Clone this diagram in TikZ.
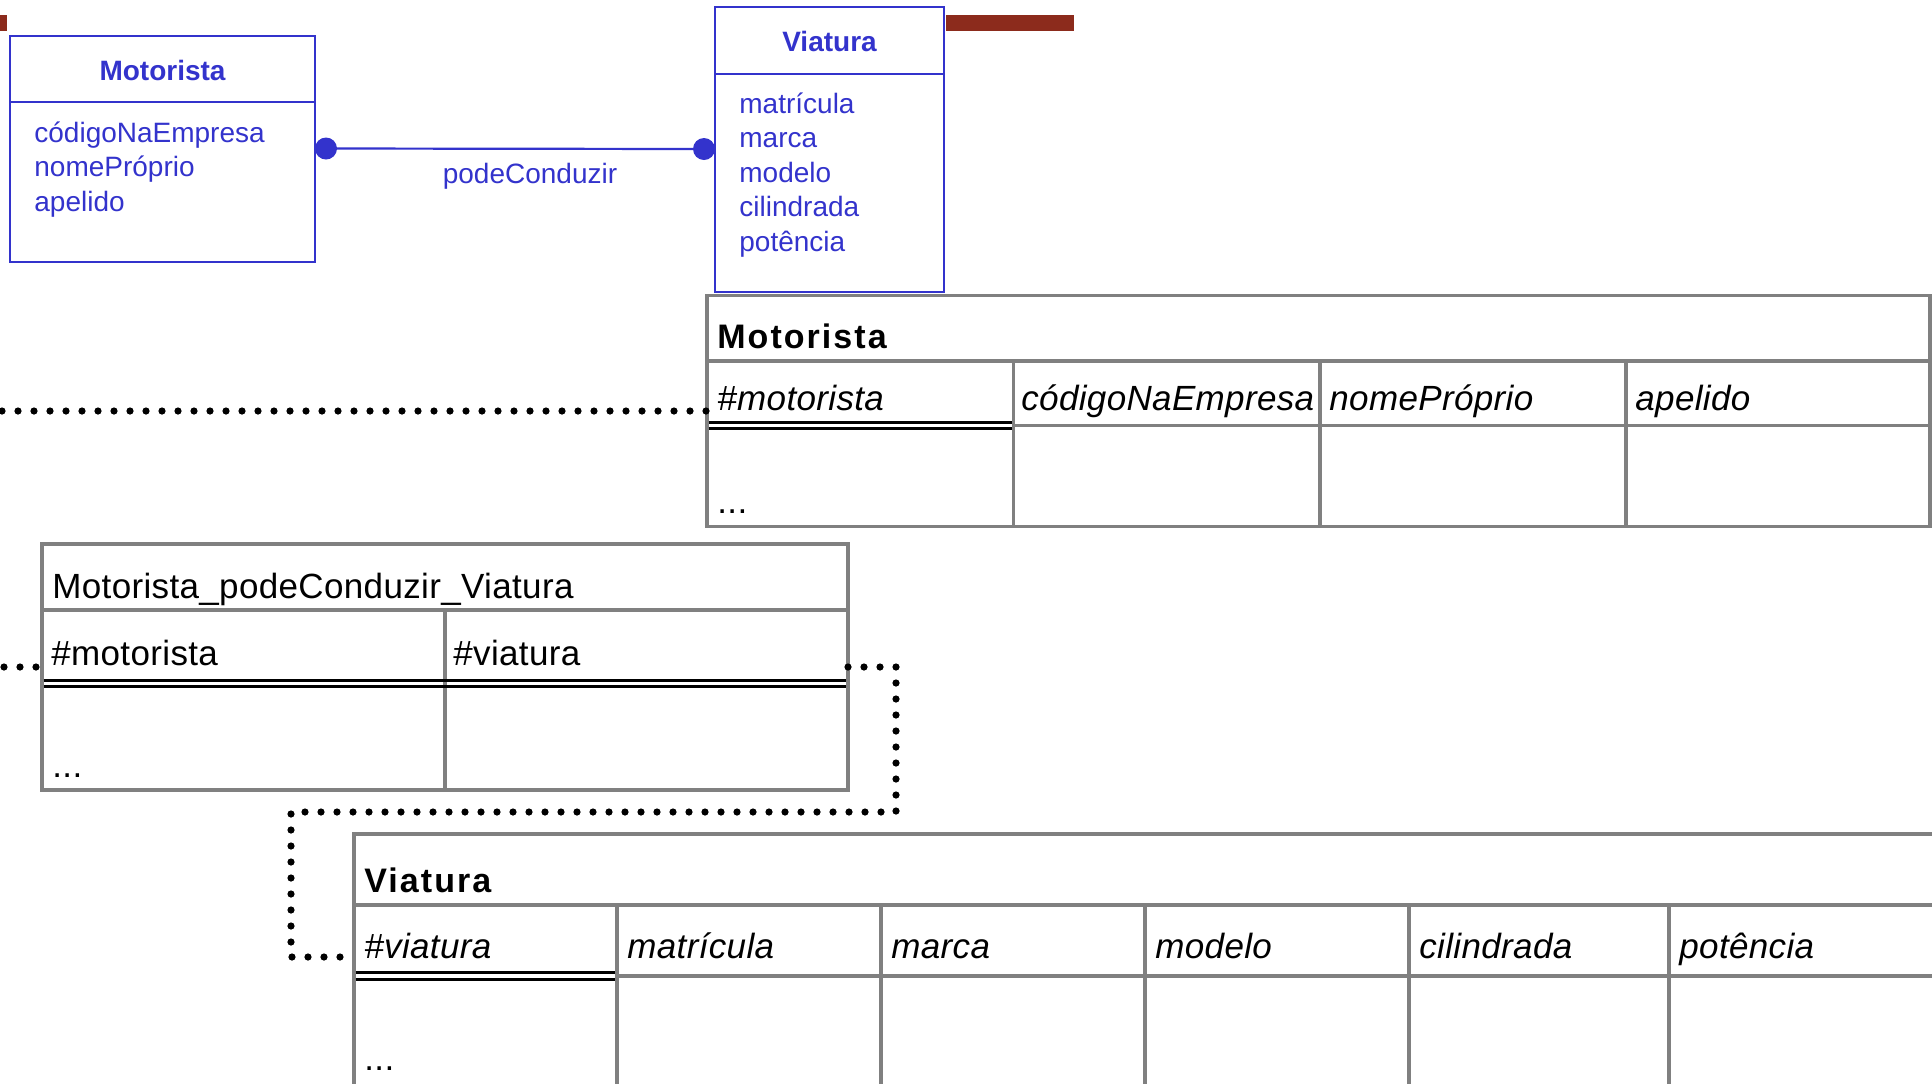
\documentclass[tikz,border=0pt]{standalone}
\usepackage{fontspec}
\setmainfont{Liberation Sans}
\newfontfamily\tabfont[LetterSpace=1]{Liberation Sans}
\newfontfamily\tabheadfont[LetterSpace=6]{Liberation Sans}
\definecolor{umlblue}{RGB}{51,51,204}
\definecolor{tgray}{RGB}{128,128,128}
\definecolor{barbrown}{RGB}{140,43,28}
\begin{document}
\begin{tikzpicture}[x=0.5pt,y=-0.5pt,
  umlbox/.style={draw=umlblue,line width=1.1pt,rectangle,inner sep=0,outer sep=0},
  umlrule/.style={draw=umlblue,line width=1.1pt},
  umltxt/.style={text=umlblue,inner sep=0,font=\fontsize{14pt}{16pt}\selectfont},
  umltitle/.style={text=umlblue,inner sep=0,font=\fontsize{14pt}{16pt}\selectfont\bfseries},
  enddot/.style={circle,fill=umlblue,inner sep=0,outer sep=0,minimum size=11pt},
  tframe/.style={draw=tgray,line width=1.65pt,rectangle,inner sep=0,outer sep=0},
  tline/.style={draw=tgray,line width=1.65pt},
  keyline/.style={draw=black,line width=1.6pt},
  ttitle/.style={inner sep=0,anchor=base west,font=\tabheadfont\fontsize{17pt}{19pt}\selectfont\bfseries},
  tcell/.style={inner sep=0,anchor=base west,font=\tabfont\fontsize{17.5pt}{20pt}\selectfont\itshape},
  tplain/.style={inner sep=0,anchor=base west,font=\tabfont\fontsize{17.5pt}{20pt}\selectfont},
  dotline/.style={line width=3.6pt,line cap=round,dash pattern=on 0pt off 8pt},
]
\useasboundingbox (0,0) rectangle (1932,1083);
\clip (0,0) rectangle (1932,1083);

% decorative bars
\fill[barbrown] (0,15) rectangle (7,31);
\fill[barbrown] (946,15) rectangle (1074,31);

% ---------- class diagram ----------
\node[umlbox,minimum width=152.5pt,minimum height=113pt] (mbox) at (162.5,149) {};
\draw[umlrule] (10,102) -- (315,102);
\node[umltitle,anchor=base] (mtitle) at (162.5,80) {Motorista};
\node[umltxt,anchor=base west] (ma1) at (34,142) {códigoNaEmpresa};
\node[umltxt,anchor=base west] (ma2) at (34,176.5) {nomePróprio};
\node[umltxt,anchor=base west] (ma3) at (34,211) {apelido};

\node[umlbox,minimum width=114.5pt,minimum height=142.5pt] (vbox) at (829.5,149.5) {};
\draw[umlrule] (715,74) -- (944,74);
\node[umltitle,anchor=base] (vtitle) at (829.5,51) {Viatura};
\node[umltxt,anchor=base west] (va1) at (739,113) {matrícula};
\node[umltxt,anchor=base west] (va2) at (739,147.5) {marca};
\node[umltxt,anchor=base west] (va3) at (739,182) {modelo};
\node[umltxt,anchor=base west] (va4) at (739,216.5) {cilindrada};
\node[umltxt,anchor=base west] (va5) at (739,251) {potência};

\node[enddot] (d1) at (326,148.5) {};
\node[enddot] (d2) at (704,149) {};
\draw[umlrule] (d1) -- (d2);
\node[umltxt,anchor=base] (assoc) at (530,183) {podeConduzir};

% ---------- table Motorista ----------
\node[tframe,minimum width=611.5pt,minimum height=115.5pt] (mtab) at (1318.5,411) {};
\draw[tline] (707,361) -- (1930,361);
\draw[tline] (1013.5,425.5) -- (1930,425.5);
\draw[keyline] (708.7,422.5) -- (1011.7,422.5);
\draw[keyline] (708.7,428.5) -- (1011.7,428.5);
\foreach \x in {1013.5,1320,1626} \draw[tline] (\x,361) -- (\x,526.5);
\node[ttitle] (mtt) at (717,348) {Motorista};
\node[tcell] (mc1) at (717,410) {\#motorista};
\node[tcell] (mc2) at (1021,410) {códigoNaEmpresa};
\node[tcell] (mc3) at (1329,410) {nomePróprio};
\node[tcell] (mc4) at (1635,410) {apelido};
\node[tplain] (mc5) at (717,513) {...};

% ---------- table Motorista_podeConduzir_Viatura ----------
\node[tframe,minimum width=403pt,minimum height=123pt] (atab) at (445,667) {};
\draw[tline] (42,610) -- (848,610);
\draw[tline] (445,610) -- (445,790);
\draw[keyline] (43.7,680.5) -- (846.3,680.5);
\draw[keyline] (43.7,686.5) -- (846.3,686.5);
\node[tplain] (att) at (52,598) {Motorista\_podeConduzir\_Viatura};
\node[tplain] (ac1) at (51,665) {\#motorista};
\node[tplain] (ac2) at (453,665) {\#viatura};
\node[tplain] (ac3) at (52,777) {...};

% ---------- table Viatura ----------
\node[tframe,minimum width=823pt,minimum height=143pt] (vtab) at (1177,977) {};
\draw[tline] (354,905) -- (1940,905);
\draw[tline] (617,976) -- (1940,976);
\draw[keyline] (355.7,972.5) -- (615.3,972.5);
\draw[keyline] (355.7,979.5) -- (615.3,979.5);
\foreach \x in {617,881,1145,1409,1669} \draw[tline] (\x,905) -- (\x,1100);
\node[ttitle] (vtt) at (364,892) {Viatura};
\node[tcell] (vc1) at (364,958) {\#viatura};
\node[tcell] (vc2) at (627,958) {matrícula};
\node[tcell] (vc3) at (891,958) {marca};
\node[tcell] (vc4) at (1155,958) {modelo};
\node[tcell] (vc5) at (1419,958) {cilindrada};
\node[tcell] (vc6) at (1679,958) {potência};
\node[tplain] (vc7) at (364,1070) {...};

% ---------- dotted links ----------
\coordinate (mfree) at (2,411);
\coordinate (afree) at (4,667);
\coordinate (b1) at (896,812);
\coordinate (b2) at (291,957);
\draw[dotline] (mfree) -- (mtab.west);
\draw[dotline] (afree) -- (atab.west);
\draw[dotline] (atab.east) -| (b1) -- (b1 -| b2) -- (b2) -- (vtab.west |- b2);
\end{tikzpicture}
\end{document}
